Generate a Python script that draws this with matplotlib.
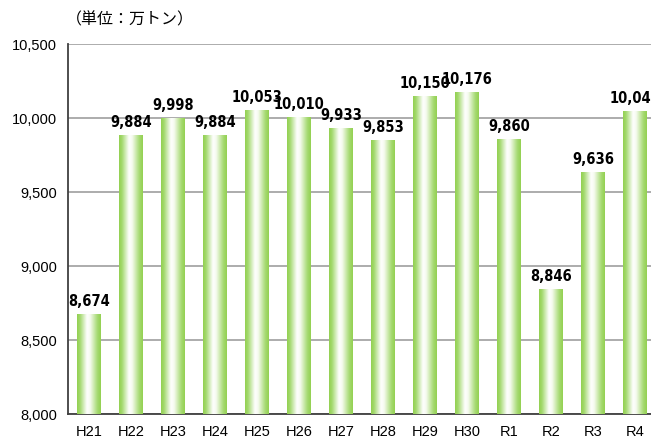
import matplotlib
matplotlib.use("Agg")
import matplotlib.pyplot as plt
import numpy as np
from matplotlib.colors import LinearSegmentedColormap

plt.rcParams['font.family'] = ['Liberation Sans', 'DejaVu Sans', 'Noto Sans CJK JP']

categories = ["H21", "H22", "H23", "H24", "H25", "H26", "H27", "H28", "H29", "H30", "R1", "R2", "R3", "R4"]
values = [8674, 9884, 9998, 9884, 10053, 10010, 9933, 9853, 10150, 10176, 9860, 8846, 9636, 10047]
yticks = [8000, 8500, 9000, 9500, 10000, 10500]

fig = plt.figure(figsize=(6.51, 4.39), dpi=100)
ax = fig.add_axes([68/651, 24/439, (656-68)/651, (415-45)/439])

ax.set_xlim(-0.5, len(categories) - 0.5)
ax.set_ylim(8000, 10500)

cmap = LinearSegmentedColormap.from_list("g", [
    (0.0, "#92d050"), (0.12, "#a2d86c"), (0.42, "#ffffff"), (0.55, "#f6fbef"),
    (0.85, "#a6da72"), (1.0, "#92d050")])
grad = np.linspace(0, 1, 256).reshape(1, -1)

x = np.arange(len(categories))
bars = ax.bar(x, [v - 8000 for v in values], bottom=8000, width=0.57,
              color="none", edgecolor="none", zorder=3)
for b, v in zip(bars, values):
    x0 = b.get_x()
    w = b.get_width()
    im = ax.imshow(grad, cmap=cmap, extent=[x0, x0 + w, 8000, v],
                   aspect="auto", zorder=3, interpolation="bicubic")
    im.set_clip_path(b)
    ax.text(b.get_x() + w / 2, v + 40, f"{v:,}", ha="center", va="bottom",
            fontsize=10.5, fontweight="bold", fontstretch="condensed", zorder=4,
            family=["DejaVu Sans"], clip_on=False)

ax.set_yticks(yticks)
ax.set_yticklabels([f"{t:,}" for t in yticks], fontsize=10.5)
ax.set_xticks(x)
ax.set_xticklabels(categories, fontsize=10.5)
ax.tick_params(length=0, pad=7)
ax.tick_params(axis='y', pad=8)
ax.yaxis.grid(True, color="#a6a6a6", linewidth=1.3, zorder=0)
ax.set_axisbelow(True)
for s in ["top", "right"]:
    ax.spines[s].set_visible(False)
ax.spines["left"].set_color("#404040")
ax.spines["bottom"].set_color("#404040")
ax.spines["left"].set_linewidth(1.3)
ax.spines["bottom"].set_linewidth(1.3)

fig.text(66/651, 1 - 20/439, "（単位：万トン）", fontsize=11.5,
         family=["Noto Sans CJK JP"], ha="left", va="center")

fig.savefig("out.png", dpi=100)
